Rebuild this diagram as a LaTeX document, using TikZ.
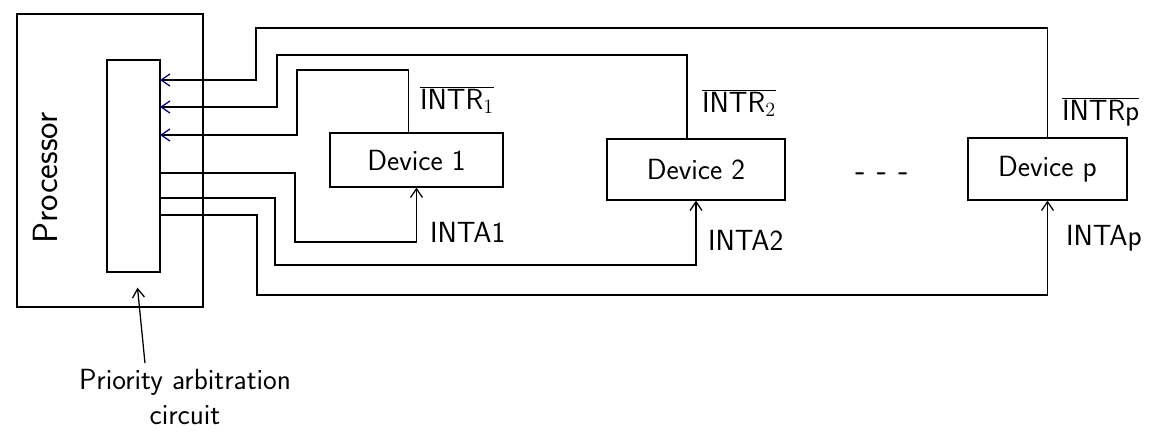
\documentclass[tikz,border=0pt]{standalone}
\usetikzlibrary{arrows.meta}
\begin{document}
\begin{tikzpicture}[x=0.025cm,y=-0.025cm,line width=0.9pt,
  every node/.style={font=\sffamily\huge},
  devbox/.style={draw,inner sep=0pt},
  req/.style={-{Straight Barb[length=2.2mm,width=3mm]}},
  reqin/.style={-{Straight Barb[length=2.2mm,width=3mm,color=blue!45!black]}},
  lbl/.style={inner sep=1pt,anchor=west}]
\useasboundingbox (0,0) rectangle (1160,436);
% processor and arbitration circuit
\node[devbox,minimum width=4.65cm,minimum height=7.325cm] (proc) at (110,160.5){};
\node[rotate=90,font=\sffamily\Huge] (proctext) at (45,178){Processor};
\node[devbox,minimum width=1.325cm,minimum height=5.3cm] (arb) at (133.5,166){};
\coordinate (i1) at (160,80);
\coordinate (i2) at (160,107);
\coordinate (i3) at (160,135);
\coordinate (o1) at (160,173);
\coordinate (o2) at (160,198);
\coordinate (o3) at (160,215);
% devices
\node[devbox,minimum width=4.325cm,minimum height=1.35cm] (dev1) at (416.5,160){Device 1};
\node[devbox,minimum width=4.45cm,minimum height=1.525cm] (dev2) at (696,169.5){Device 2};
\node[devbox,minimum width=3.975cm,minimum height=1.55cm] (devp) at (1047.5,169){Device p};
\node (dots) at (882,177){\bfseries - - -};
% request lines
\draw[reqin] ([xshift=-0.2cm]dev1.north) |- (297,70) |- (i3);
\draw[reqin] ([xshift=-0.225cm]dev2.north) |- (277,55) |- (i2);
\draw[reqin] (devp.north) |- (256,28) |- (i1);
% acknowledge lines
\draw[req] (o1) -| (295,242) -| (dev1.south);
\draw[req] (o2) -| (275,265) -| (dev2.south);
\draw[req] (o3) -| (257,295) -| (devp.south);
% labels
\node[lbl] (r1) at (418,100){$\overline{\mathsf{INTR}_1}$};
\node[lbl] (r2) at (700,103){$\overline{\mathsf{INTR}_2}$};
\node[lbl] (rp) at (1060,112){$\overline{\mathsf{INTRp}}$};
\node[lbl] (a1) at (428,232){INTA1};
\node[lbl] (a2) at (706,240){INTA2};
\node[lbl] (ap) at (1064,238){INTAp};
\node[align=center,inner sep=1pt] (prio) at (185,397){Priority arbitration\\circuit};
\draw[req] ([xshift=-1cm,yshift=0.1cm]prio.north) -- ([xshift=0.1cm,yshift=-0.375cm]arb.south);
\end{tikzpicture}
\end{document}
